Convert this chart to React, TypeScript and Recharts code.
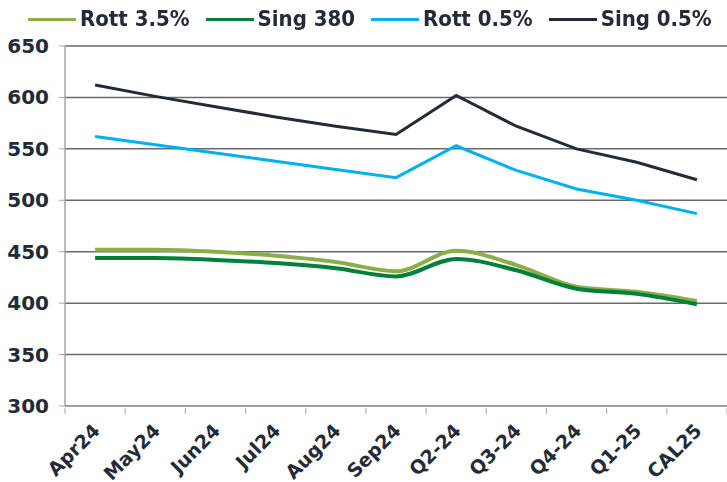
import React from 'react';
import { LineChart, Line, XAxis, YAxis, CartesianGrid, Legend } from 'recharts';

const categories = ['Apr24', 'May24', 'Jun24', 'Jul24', 'Aug24', 'Sep24', 'Q2-24', 'Q3-24', 'Q4-24', 'Q1-25', 'CAL25'];
const rott35 = [452, 452, 450, 446, 440, 431, 451, 437, 416, 411, 402];
const sing380 = [444, 444, 442, 439, 434, 426, 443, 432, 414, 409, 399];
const rott05 = [562, 554, 546, 538, 530, 522, 553, 529, 511, 500, 487];
const sing05 = [612, 601, 591, 581, 572, 564, 602, 572, 550, 537, 520];
const yTicks = [300, 350, 400, 450, 500, 550, 600, 650];

const seriesNames = ['Rott 3.5%', 'Sing 380', 'Rott 0.5%', 'Sing 0.5%'];
const seriesKeys = ['rott35', 'sing380', 'rott05', 'sing05'];
const seriesColors = ['#8BAE46', '#00803A', '#00B0F0', '#232B38'];

const data = categories.map((c, i) => ({
  cat: c,
  rott35: rott35[i],
  sing380: sing380[i],
  rott05: rott05[i],
  sing05: sing05[i],
}));

const TEXT = '#232B38';
const HALF = 30.1;

const XTick = (props: any) => {
  const { x, y, payload, index } = props;
  const ax = x + 6;
  const ay = y + 18;
  return (
    <g>
      <line x1={x - HALF} y1={y - 6} x2={x - HALF} y2={y} stroke="#a6a6a6" strokeWidth={1} />
      {index === categories.length - 1 ? (
        <line x1={x + HALF} y1={y - 6} x2={x + HALF} y2={y} stroke="#a6a6a6" strokeWidth={1} />
      ) : null}
      <text
        x={ax}
        y={ay}
        transform={`rotate(-45, ${ax}, ${ay})`}
        textAnchor="end"
        fill={TEXT}
        fontFamily="DejaVu Sans"
        fontWeight="bold"
        fontSize={19}
      >
        {payload.value}
      </text>
    </g>
  );
};

const YTick = (props: any) => {
  const { x, y, payload } = props;
  return (
    <text
      x={x - 8}
      y={y + 7}
      textAnchor="end"
      fill={TEXT}
      fontFamily="DejaVu Sans"
      fontWeight="bold"
      fontSize={20}
    >
      {payload.value}
    </text>
  );
};

const LegendContent = () => {
  return (
    <div style={{ display: 'flex', alignItems: 'center', paddingLeft: 28, whiteSpace: 'nowrap', width: 727 }}>
      {seriesNames.map((n, i) => (
        <div key={n} style={{ display: 'flex', alignItems: 'center', marginRight: 16, flexShrink: 0 }}>
          <div style={{ width: 48, height: 3, background: seriesColors[i], marginRight: 4, flexShrink: 0 }} />
          <span
            style={{
              fontFamily: 'DejaVu Sans Condensed, DejaVu Sans',
              fontWeight: 'bold',
              fontSize: 22,
              color: TEXT,
              lineHeight: '24px',
              whiteSpace: 'nowrap',
            }}
          >
            {n}
          </span>
        </div>
      ))}
    </div>
  );
};

export default function App() {
  return (
    <div style={{ position: 'fixed', left: 0, top: 0, background: '#fff' }}>
      <LineChart width={727} height={482} data={data} margin={{ top: 22, right: 0, bottom: 0, left: 0 }}>
        <CartesianGrid vertical={false} stroke="#6a6a6a" strokeWidth={1.5} />
        <XAxis
          dataKey="cat"
          interval={0}
          height={76}
          padding={{ left: HALF, right: HALF }}
          tick={<XTick />}
          tickLine={false}
          axisLine={{ stroke: '#a6a6a6', strokeWidth: 1.5 }}
          tickSize={6}
        />
        <YAxis
          domain={[300, 650]}
          ticks={yTicks}
          width={65}
          tick={<YTick />}
          tickLine={{ stroke: '#a6a6a6' }}
          axisLine={{ stroke: '#a6a6a6', strokeWidth: 1.5 }}
          tickSize={6}
          interval={0}
        />
        <Legend
          verticalAlign="top"
          content={<LegendContent />}
          wrapperStyle={{ top: 7, left: 0, width: 727 }}
        />
        {seriesKeys.map((k, i) => (
          <Line
            key={k}
            name={seriesNames[i]}
            dataKey={k}
            type={i < 2 ? 'monotone' : 'linear'}
            stroke={seriesColors[i]}
            strokeWidth={i < 2 ? 4 : 3}
            dot={false}
            isAnimationActive={false}
          />
        ))}
      </LineChart>
    </div>
  );
}
